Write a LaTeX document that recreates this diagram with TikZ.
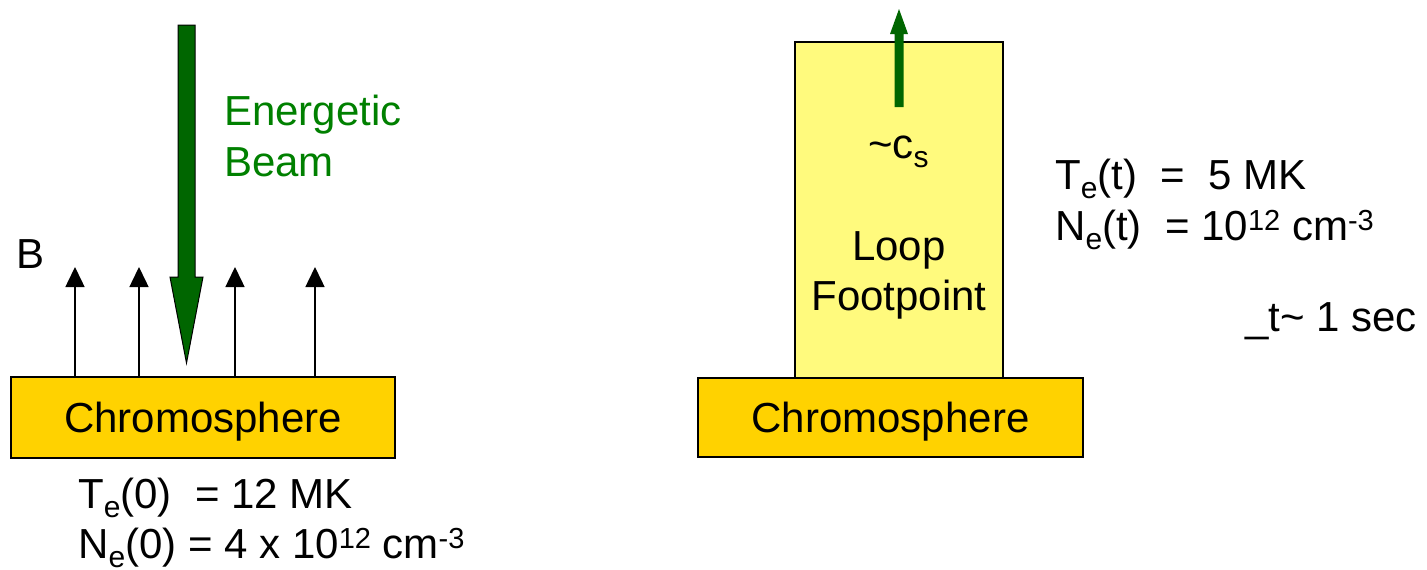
\documentclass[tikz,border=0pt]{standalone}
\usepackage{fontspec}
\setmainfont{Liberation Sans}
\usetikzlibrary{arrows.meta}
\definecolor{gold}{RGB}{255,210,0}
\definecolor{paleyellow}{RGB}{255,250,125}
\definecolor{beamgreen}{RGB}{0,102,0}
\definecolor{textgreen}{RGB}{0,128,0}
\newcommand{\sbs}[1]{\raisebox{-9pt}{\fontsize{30}{30}\selectfont #1}}
\newcommand{\sps}[1]{\raisebox{10pt}{\fontsize{29}{29}\selectfont #1}}
\begin{document}
\begin{tikzpicture}[x=1pt,y=-1pt,
  txt/.style={inner sep=0pt, anchor=base west, font=\fontsize{42}{50}\selectfont},
  box/.style={draw=black, line width=1.5pt, inner sep=0pt, text height=30pt, text depth=0pt, font=\fontsize{42}{50}\selectfont},
  field/.style={line width=1.5pt, -{Triangle[length=20pt,width=19pt]}}]
\useasboundingbox (0,0) rectangle (1427,570);
% left side
\node[box, fill=gold, minimum width=384pt, minimum height=81pt] (chromL) at (203,417.5) {Chromosphere};
\foreach \x/\n in {75/a,139/b,235/c,315/d}{
  \coordinate (f\n) at (\x,267);
  \draw[field] (chromL.north -| f\n) -- (f\n);
}
\node[txt] (B) at (16,268) {B};
\draw[fill=beamgreen, draw=black, line width=1pt]
  (178,25) -- (195,25) -- (195,277) -- (203,277) -- (186.5,363) -- (170,277) -- (178,277) -- cycle;
\node[txt, text=textgreen] (en) at (224,125) {Energetic};
\node[txt, text=textgreen] (bm) at (224,176) {Beam};
\node[txt] (te0) at (78,508) {T\sbs{e}(0)\ \ = 12 MK};
\node[txt] (ne0) at (78,558) {N\sbs{e}(0) = 4 x 10\sps{12} cm\sps{-3}};
% right side
\node[box, fill=paleyellow, minimum width=208pt, minimum height=336pt] (loopbox) at (899,210) {};
\node[box, fill=gold, minimum width=385pt, minimum height=79pt] (chromR) at (890.5,417.5) {Chromosphere};
\fill[beamgreen] (894.5,107) -- (903.5,107) -- (903.5,34) -- (908,34) -- (899,9) -- (890,34) -- (894.5,34) -- cycle;
\node[txt] (cs) at (868,158) {\textasciitilde c\sbs{s}};
\node[txt, anchor=base] (loop) at (899,260) {Loop};
\node[txt, anchor=base] (fp) at (899,310) {Footpoint};
\node[txt] (tet) at (1055,189) {T\sbs{e}(t)\ \ =\ \ 5 MK};
\node[txt] (net) at (1055,240) {N\sbs{e}(t)\ \ = 10\sps{12} cm\sps{-3}};
\node[txt] (dt) at (1245,331) {\_t\textasciitilde{} 1 sec};
\end{tikzpicture}
\end{document}
